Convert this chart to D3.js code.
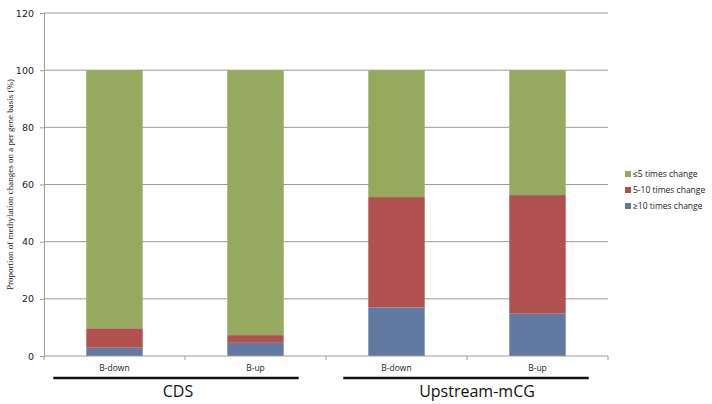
<!DOCTYPE html>
<html>
<head>
<meta charset="utf-8">
<script src="https://cdn.jsdelivr.net/npm/d3@7"></script>
<style>
  body { margin: 0; background: #fff; }
  svg { display: block; }
</style>
</head>
<body>
<svg id="chart" width="712" height="404"></svg>
<script>
// data
var categories = ["CDS B-down", "CDS B-up", "Up B-down", "Up B-up"];
var catLabels = ["B-down", "B-up", "B-down", "B-up"];
var groups = ["CDS", "Upstream-mCG"];
var groupOf = [0, 0, 1, 1];
var over10 = [2.9, 4.6, 17.0, 14.8];      // ≥10 times change
var fiveTo10 = [6.8, 2.7, 38.6, 41.5];    // 5-10 times change
var under5 = [90.3, 92.7, 44.4, 43.7];    // ≤5 times change
var seriesNames = ["≥10 times change", "5-10 times change", "≤5 times change"];
var yTicks = [0, 20, 40, 60, 80, 100, 120];

var colors = {"≥10 times change": "#6279a2", "5-10 times change": "#b0514f", "≤5 times change": "#95aa5f"};

var margin = {top: 13, left: 44};
var width = 564, height = 343;

var svg = d3.select("#chart");
var g = svg.append("g").attr("transform", "translate(" + margin.left + "," + margin.top + ")");

var x = d3.scaleBand().domain(categories).range([0, width]).paddingInner(0.6).paddingOuter(0.3);
var y = d3.scaleLinear().domain([0, 120]).range([height, 0]);

// gridlines
g.selectAll("line.grid").data(yTicks.slice(1))
  .enter().append("line")
  .attr("x1", 0).attr("x2", width)
  .attr("y1", function(d){ return y(d); }).attr("y2", function(d){ return y(d); })
  .attr("stroke", "#a09b95").attr("stroke-width", 1);

// stacked bars
var rows = categories.map(function(c, i){
  return {cat: c, "≥10 times change": over10[i], "5-10 times change": fiveTo10[i], "≤5 times change": under5[i]};
});
var stack = d3.stack().keys(seriesNames)(rows);

g.selectAll("g.layer").data(stack).enter().append("g")
  .attr("fill", function(d){ return colors[d.key]; })
  .selectAll("rect").data(function(d){ return d; })
  .enter().append("rect")
  .attr("x", function(d){ return x(d.data.cat); })
  .attr("width", x.bandwidth())
  .attr("y", function(d){ return y(d[1]); })
  .attr("height", function(d){ return y(d[0]) - y(d[1]); });

// y axis
var yAxis = d3.axisLeft(y).tickValues(yTicks).tickSize(4).tickPadding(6);
var ya = g.append("g").call(yAxis);
ya.select(".domain").attr("stroke", "#a09b95");
ya.selectAll(".tick line").attr("stroke", "#a09b95");
ya.selectAll("text").attr("font-family", "DejaVu Sans, Verdana").attr("font-size", 9.5).attr("fill", "#222");

// x axis with ticks between bands
var xa = g.append("g").attr("transform", "translate(0," + height + ")");
xa.append("line").attr("x1", 0).attr("x2", width).attr("stroke", "#a09b95");
var step = width / categories.length;
xa.selectAll("line.tk").data(d3.range(categories.length + 1))
  .enter().append("line")
  .attr("x1", function(d){ return d * step; }).attr("x2", function(d){ return d * step; })
  .attr("y1", 0).attr("y2", 4).attr("stroke", "#a09b95");
xa.selectAll("text").data(categories).enter().append("text")
  .attr("x", function(d){ return x(d) + x.bandwidth() / 2; })
  .attr("y", 15)
  .attr("text-anchor", "middle")
  .attr("font-family", "Open Sans, sans-serif").attr("font-size", 8.5).attr("fill", "#222")
  .text(function(d, i){ return catLabels[i]; });

// group brackets (hand-drawn in the original, so the overhang differs per group)
var overhang = [[33, 15], [25, 23]];
var labelShift = [2, 11];
groups.forEach(function(name, gi){
  var idx = [];
  groupOf.forEach(function(v, i){ if (v === gi) idx.push(i); });
  var x0 = x(categories[idx[0]]) - overhang[gi][0];
  var x1 = x(categories[idx[idx.length - 1]]) + x.bandwidth() + overhang[gi][1];
  g.append("line").attr("x1", x0).attr("x2", x1)
    .attr("y1", height + 22).attr("y2", height + 22)
    .attr("stroke", "#111").attr("stroke-width", 2.5);
  g.append("text").attr("x", (x0 + x1) / 2 + labelShift[gi]).attr("y", height + 41)
    .attr("text-anchor", "middle")
    .attr("font-family", "Open Sans, sans-serif").attr("font-size", 16).attr("fill", "#111")
    .text(name);
});

// y title
svg.append("text")
  .attr("transform", "translate(13," + (margin.top + height / 2) + ") rotate(-90)")
  .attr("text-anchor", "middle")
  .attr("font-family", "Liberation Serif, Times New Roman, serif").attr("font-size", 9).attr("fill", "#222")
  .text("Proportion of methylation  changes on a per gene basis (%)");

// legend
var legendOrder = ["≤5 times change", "5-10 times change", "≥10 times change"];
var lg = svg.append("g").attr("transform", "translate(625,171)");
legendOrder.forEach(function(k, i){
  var row = lg.append("g").attr("transform", "translate(0," + (i * 16) + ")");
  row.append("rect").attr("width", 6).attr("height", 6).attr("fill", colors[k]);
  row.append("text").attr("x", 8).attr("y", 6)
    .attr("font-family", "Open Sans, sans-serif").attr("font-size", 8.5).attr("fill", "#222")
    .text(k);
});
</script>
</body>
</html>
